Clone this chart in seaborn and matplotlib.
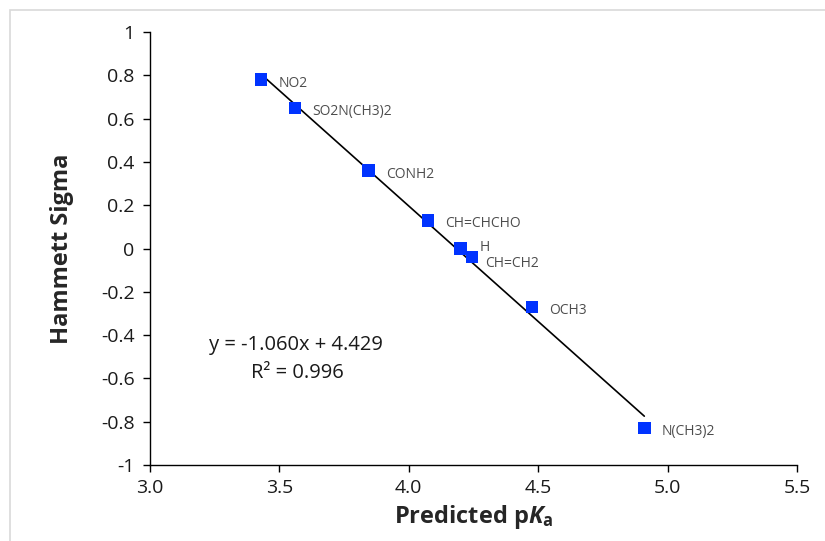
import matplotlib
matplotlib.use("Agg")
import matplotlib.pyplot as plt
import seaborn as sns
import pandas as pd
from matplotlib.patches import Rectangle

substituents = ["NO2", "SO2N(CH3)2", "CONH2", "CH=CHCHO", "H", "CH=CH2", "OCH3", "N(CH3)2"]
predicted_pka = [3.43, 3.56, 3.845, 4.075, 4.20, 4.245, 4.475, 4.91]
hammett_sigma = [0.78, 0.65, 0.36, 0.13, 0.0, -0.04, -0.27, -0.83]
equation_text = "y = -1.060x + 4.429"
r2_text = "R² = 0.996"
x_ticks = [3.0, 3.5, 4.0, 4.5, 5.0, 5.5]
y_ticks = [-1, -0.8, -0.6, -0.4, -0.2, 0, 0.2, 0.4, 0.6, 0.8, 1]

df = pd.DataFrame({"pKa": predicted_pka, "sigma": hammett_sigma, "label": substituents})

sns.set_theme(style="white")
plt.rcParams["font.family"] = ["Open Sans", "DejaVu Sans"]
plt.rcParams["mathtext.fontset"] = "custom"
plt.rcParams["mathtext.rm"] = "Open Sans"
plt.rcParams["mathtext.bf"] = "Open Sans:bold"
plt.rcParams["mathtext.it"] = "Open Sans:italic"
plt.rcParams["mathtext.bfit"] = "Open Sans:bold:italic"

fig = plt.figure(figsize=(8.25, 5.41), dpi=100)
fig.patches.append(Rectangle((10 / 825, -0.1), 1.2, (541 - 10) / 541 + 0.1,
                             transform=fig.transFigure, fill=False,
                             edgecolor="#d9d9d9", linewidth=1.2))
ax = fig.add_axes([150 / 825, 1 - 465 / 541, (797 - 150) / 825, (465 - 32) / 541])

sns.regplot(data=df, x="pKa", y="sigma", ci=None, truncate=True, ax=ax,
            scatter=False, line_kws={"color": "black", "linewidth": 1.2})
sns.scatterplot(data=df, x="pKa", y="sigma", ax=ax, marker="s", s=80,
                color="#0033ff", edgecolor="none", zorder=3)

offsets = {"H": (14, 0.5), "CH=CH2": (9, -4.5)}
for _, r in df.iterrows():
    dx, dy = offsets.get(r["label"], (12.5, -2.5))
    ax.annotate(r["label"], (r["pKa"], r["sigma"]), xytext=(dx, dy),
                textcoords="offset points", fontsize=10, color="#4d4d4d",
                va="center", ha="left")

ax.text(3.565, -0.446, equation_text, fontsize=14.5, ha="center", va="center", color="#1a1a1a")
ax.text(3.57, -0.575, r2_text, fontsize=14.5, ha="center", va="center", color="#1a1a1a")

ax.set_xlim(3.0, 5.5)
ax.set_ylim(-1, 1)
ax.set_xticks(x_ticks)
ax.set_xticklabels([f"{v:.1f}" for v in x_ticks])
ax.set_yticks(y_ticks)
ax.set_yticklabels([f"{v:g}" for v in y_ticks])
ax.tick_params(axis="both", direction="out", length=5, width=1, color="black",
               labelsize=14, labelcolor="#1a1a1a", bottom=True, left=True)
ax.tick_params(axis="y", pad=6)
ax.tick_params(axis="x", pad=5)
sns.despine(ax=ax)
for s in ["left", "bottom"]:
    ax.spines[s].set_color("black")
    ax.spines[s].set_linewidth(1)

ax.set_xlabel(r"Predicted p$\mathbfit{K}_{\mathbf{a}}$", fontsize=17, fontweight="bold")
ax.set_ylabel("Hammett Sigma", fontsize=17, fontweight="bold")
ax.xaxis.set_label_coords(0.5, (465 - 503) / 433)
ax.yaxis.set_label_coords((74 - 150) / 647, 0.5)

fig.savefig("out.png", dpi=100)
